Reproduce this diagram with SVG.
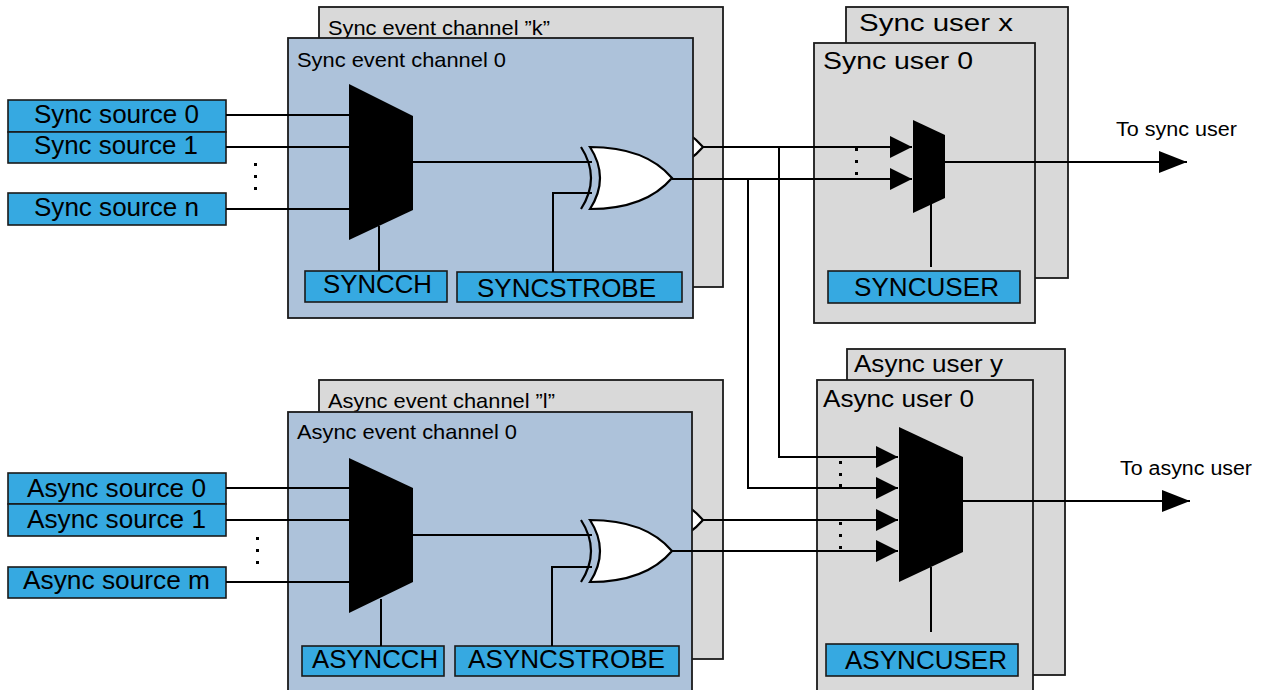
<svg xmlns="http://www.w3.org/2000/svg" width="1265" height="690" viewBox="0 0 1265 690">
<style>
text{font-family:"Liberation Sans",Arial,sans-serif;fill:#000}
.src{font-size:25.5px}
.ttl{font-size:21px}
.reg{font-size:25px}
.usr{font-size:23px}
.out{font-size:20px}
.blue{fill:#36A9E1;stroke:#1a1a1a;stroke-width:1.6}
.chan{fill:#ADC2DA;stroke:#1a1a1a;stroke-width:1.8}
.gray{fill:#D9D9D9;stroke:#1a1a1a;stroke-width:1.8}
.mux{fill:#000;stroke:none}
.xor{fill:#fff;stroke:#000;stroke-width:2.2}
.arc{fill:none;stroke:#000;stroke-width:2.2}
.w{fill:none;stroke:#000;stroke-width:2}
.dot{fill:#000}
</style>
<defs>
<marker id="arr" markerUnits="userSpaceOnUse" markerWidth="22" markerHeight="22" refX="22" refY="11" orient="auto"><path d="M0,0 L22,11 L0,22 Z" fill="#000"/></marker>
<marker id="arrbig" markerUnits="userSpaceOnUse" markerWidth="28" markerHeight="22" refX="28" refY="11" orient="auto"><path d="M0,0 L28,11 L0,22 Z" fill="#000"/></marker>
<path id="xorg" d="M0,0 C40,0 65,11 82,31 C65,51 40,62 0,62 Q20,31 0,0 Z"/>
<path id="xarc" d="M-9,0 Q11,31 -9,62"/>
</defs>

<!-- sources -->
<g id="sync-source-0"><rect class="blue" x="8" y="100" width="218" height="32"/><text class="src" x="34" y="123" textLength="165" lengthAdjust="spacingAndGlyphs">Sync source 0</text></g>
<g id="sync-source-1"><rect class="blue" x="8" y="132" width="218" height="31"/><text class="src" x="34" y="154" textLength="164" lengthAdjust="spacingAndGlyphs">Sync source 1</text></g>
<g id="sync-source-n"><rect class="blue" x="8" y="193" width="218" height="32"/><text class="src" x="34" y="216" textLength="165" lengthAdjust="spacingAndGlyphs">Sync source n</text></g>
<g id="async-source-0"><rect class="blue" x="8" y="473" width="218" height="31"/><text class="src" x="27" y="497" textLength="179" lengthAdjust="spacingAndGlyphs">Async source 0</text></g>
<g id="async-source-1"><rect class="blue" x="8" y="504" width="218" height="32"/><text class="src" x="27" y="528" textLength="179" lengthAdjust="spacingAndGlyphs">Async source 1</text></g>
<g id="async-source-m"><rect class="blue" x="8" y="567" width="218" height="31"/><text class="src" x="23" y="589" textLength="187" lengthAdjust="spacingAndGlyphs">Async source m</text></g>
<g id="source-dots">
<rect class="dot" x="254" y="163" width="3" height="3"/><rect class="dot" x="254" y="175" width="3" height="3"/><rect class="dot" x="254" y="187" width="3" height="3"/>
<rect class="dot" x="256" y="537" width="3" height="3"/><rect class="dot" x="256" y="549" width="3" height="3"/><rect class="dot" x="256" y="561" width="3" height="3"/>
</g>

<!-- sync channels -->
<g id="sync-channel-k">
<rect class="gray" x="319" y="7" width="404" height="280"/>
<text class="ttl" x="328" y="35" textLength="222" lengthAdjust="spacingAndGlyphs">Sync event channel ”k”</text>
<g transform="translate(621,116)"><use href="#xorg" class="xor"/></g>
</g>
<g id="sync-channel-0">
<rect class="chan" x="288" y="38" width="405" height="280"/>
<text class="ttl" x="297" y="67" textLength="209" lengthAdjust="spacingAndGlyphs">Sync event channel 0</text>
</g>
<g id="syncch"><rect class="blue" x="305" y="271" width="142" height="31"/><text class="reg" x="323" y="293" textLength="109" lengthAdjust="spacingAndGlyphs">SYNCCH</text></g>
<g id="syncstrobe"><rect class="blue" x="457" y="272" width="225" height="30"/><text class="reg" x="477" y="297" textLength="179" lengthAdjust="spacingAndGlyphs">SYNCSTROBE</text></g>

<!-- async channels -->
<g id="async-channel-l">
<rect class="gray" x="319" y="380" width="404" height="279"/>
<text class="ttl" x="328" y="408" textLength="227" lengthAdjust="spacingAndGlyphs">Async event channel ”l”</text>
<g transform="translate(621,489)"><use href="#xorg" class="xor"/></g>
</g>
<g id="async-channel-0">
<rect class="chan" x="288" y="412" width="404" height="300"/>
<text class="ttl" x="297" y="439" textLength="220" lengthAdjust="spacingAndGlyphs">Async event channel 0</text>
</g>
<g id="asyncch"><rect class="blue" x="302" y="646" width="142" height="30"/><text class="reg" x="312" y="668" textLength="126" lengthAdjust="spacingAndGlyphs">ASYNCCH</text></g>
<g id="asyncstrobe"><rect class="blue" x="455" y="646" width="224" height="30"/><text class="reg" x="468" y="668" textLength="197" lengthAdjust="spacingAndGlyphs">ASYNCSTROBE</text></g>

<!-- users -->
<g id="sync-user-x">
<rect class="gray" x="846" y="7" width="222" height="271"/>
<text class="usr" x="859" y="31" textLength="154" lengthAdjust="spacingAndGlyphs">Sync user x</text>
</g>
<g id="sync-user-0">
<rect class="gray" x="814" y="43" width="221" height="280"/>
<text class="usr" x="823" y="69" textLength="150" lengthAdjust="spacingAndGlyphs">Sync user 0</text>
<rect class="dot" x="855" y="148" width="3" height="3"/><rect class="dot" x="855" y="160" width="3" height="3"/><rect class="dot" x="855" y="172" width="3" height="3"/>
</g>
<g id="syncuser"><rect class="blue" x="828" y="271" width="192" height="32"/><text class="reg" x="854" y="296" textLength="145" lengthAdjust="spacingAndGlyphs">SYNCUSER</text></g>
<g id="async-user-y">
<rect class="gray" x="847" y="349" width="218" height="326"/>
<text class="usr" x="854" y="372" textLength="149" lengthAdjust="spacingAndGlyphs">Async user y</text>
</g>
<g id="async-user-0">
<rect class="gray" x="817" y="380" width="216" height="330"/>
<text class="usr" x="823" y="407" textLength="151" lengthAdjust="spacingAndGlyphs">Async user 0</text>
<rect class="dot" x="839" y="461" width="3" height="3"/><rect class="dot" x="839" y="473" width="3" height="3"/><rect class="dot" x="839" y="484" width="3" height="3"/>
<rect class="dot" x="839" y="522" width="3" height="3"/><rect class="dot" x="839" y="534" width="3" height="3"/><rect class="dot" x="839" y="546" width="3" height="3"/>
</g>
<g id="asyncuser"><rect class="blue" x="826" y="644" width="192" height="32"/><text class="reg" x="845" y="669" textLength="162" lengthAdjust="spacingAndGlyphs">ASYNCUSER</text></g>

<!-- connectors -->
<g id="connectors">
<path class="w" d="M226,115 H350 M226,147 H350 M226,209 H350"/>
<path class="w" d="M226,488 H350 M226,520 H350 M226,582 H350"/>
<path class="w" d="M412,162 H592 M553,272 V193 H592 M379,226 V271"/>
<path class="w" d="M412,535 H592 M552,646 V567 H592 M381,599 V646"/>
<path class="w" d="M703,147 H912" marker-end="url(#arr)"/>
<path class="w" d="M672,179 H912" marker-end="url(#arr)"/>
<path class="w" d="M779,147 V457 H898" marker-end="url(#arr)"/>
<path class="w" d="M748,179 V488 H898" marker-end="url(#arr)"/>
<path class="w" d="M703,520 H898" marker-end="url(#arr)"/>
<path class="w" d="M672,551 H898" marker-end="url(#arr)"/>
<path class="w" d="M944,162 H1187" marker-end="url(#arrbig)"/>
<path class="w" d="M962,501 H1190" marker-end="url(#arrbig)"/>
<path class="w" d="M931,204 V267 M931,567 V632"/>
</g>

<!-- gates -->
<g id="sync-ch-mux"><polygon class="mux" points="349,84 413,116 413,210 349,240"/></g>
<g id="sync-ch-xor" transform="translate(590,147)"><use href="#xarc" class="arc"/><use href="#xorg" class="xor"/></g>
<g id="async-ch-mux"><polygon class="mux" points="349,458 413,488 413,582 349,613"/></g>
<g id="async-ch-xor" transform="translate(590,520)"><use href="#xarc" class="arc"/><use href="#xorg" class="xor"/></g>
<g id="sync-user-mux"><polygon class="mux" points="913,120 945,135 945,198 913,213"/></g>
<g id="async-user-mux"><polygon class="mux" points="899,427 963,457 963,552 899,582"/></g>

<g id="output-labels">
<text class="out" x="1116" y="136" textLength="121" lengthAdjust="spacingAndGlyphs">To sync user</text>
<text class="out" x="1120" y="475" textLength="132" lengthAdjust="spacingAndGlyphs">To async user</text>
</g>
</svg>
